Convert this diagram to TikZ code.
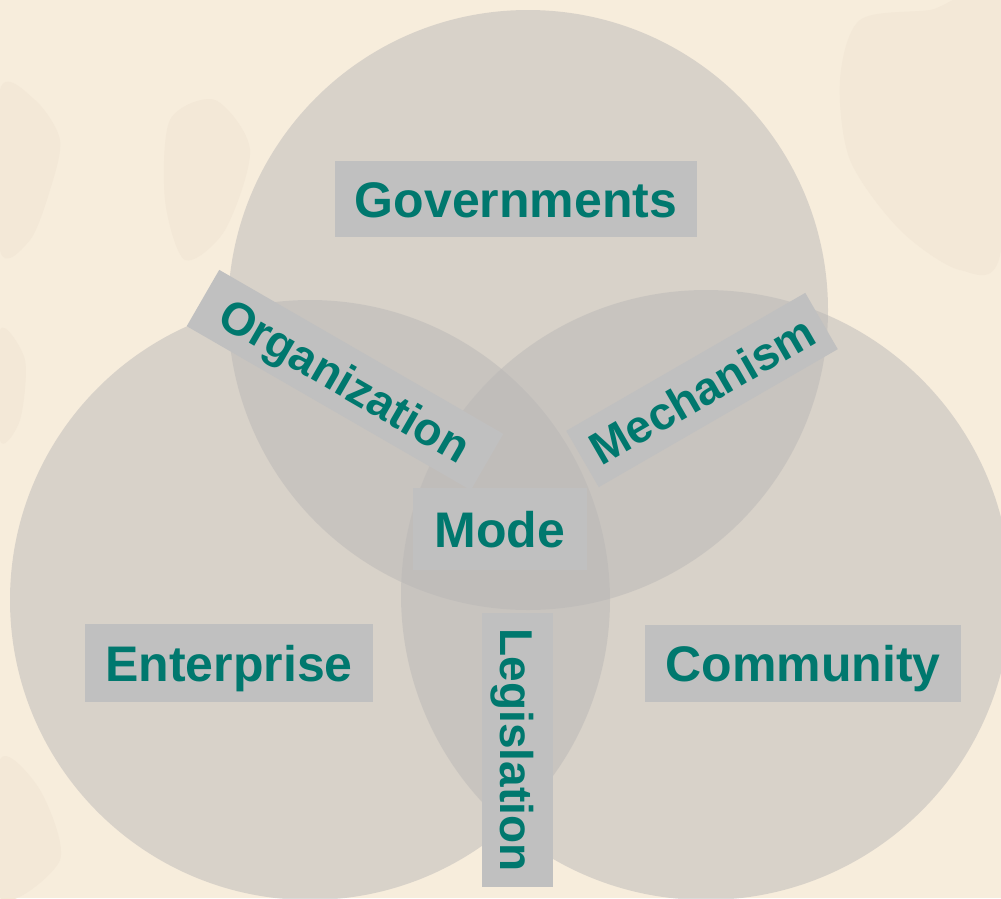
\documentclass[tikz,border=0pt]{standalone}
\usepackage{fontspec}
\setmainfont{Liberation Sans}
\definecolor{bg}{RGB}{247,237,220}
\definecolor{blot}{RGB}{243,232,215}
\definecolor{disc}{RGB}{186,184,183}
\definecolor{lab}{RGB}{192,192,192}
\definecolor{ink}{RGB}{0,120,110}
\begin{document}
\begin{tikzpicture}[x=1pt,y=-1pt,
  disk/.style={fill=disc, fill opacity=0.5},
  blob/.style={fill=blot},
  tag/.style={fill=lab, text=ink, inner sep=0pt, anchor=center,
    font=\bfseries\fontsize{50pt}{60pt}\selectfont, text height=36pt, text depth=0pt},
  slant/.style={tag, font=\bfseries\fontsize{46pt}{55pt}\selectfont, text height=33pt}]
\fill[bg] (0,0) rectangle (1001,898);
\useasboundingbox (0,0) rectangle (1001,898);
% faint background patches
\fill[blob] plot[smooth cycle] coordinates {(0,90) (35,100) (60,140) (50,190) (30,240) (0,250)};
\fill[blob] plot[smooth cycle] coordinates {(0,330) (25,360) (20,420) (0,440)};
\fill[blob] plot[smooth cycle] coordinates {(170,120) (215,100) (250,150) (225,230) (185,260) (165,200)};
\fill[blob] plot[smooth cycle] coordinates {(860,20) (930,10) (1001,0) (1001,250) (960,270) (900,230) (850,160) (840,80)};
\fill[blob] plot[smooth cycle] coordinates {(0,760) (40,790) (60,860) (0,898)};
% circles
\fill[disk] (528,310) circle[radius=300pt];
\fill[disk] (310,600) circle[radius=300pt];
\fill[disk] (706,595) circle[radius=305pt];
% labels
\node[tag, minimum width=362pt, minimum height=76pt] (gov) at (516,199) {Governments};
\node[tag, minimum width=288pt, minimum height=78pt] (ent) at (229,663) {Enterprise};
\node[tag, minimum width=316pt, minimum height=77pt] (com) at (803,663) {Community};
\node[slant, rotate=-30, minimum width=328pt, minimum height=65pt] (org) at (345,380) {Organization};
\node[slant, rotate=30, minimum width=276pt, minimum height=65pt] (mec) at (702,390) {Mechanism};
\node[tag, minimum width=174pt, minimum height=82pt] (mode) at (500,529) {Mode};
\node[slant, rotate=-90, minimum width=274pt, minimum height=71pt] (leg) at (517,750) {Legislation};
\end{tikzpicture}
\end{document}
